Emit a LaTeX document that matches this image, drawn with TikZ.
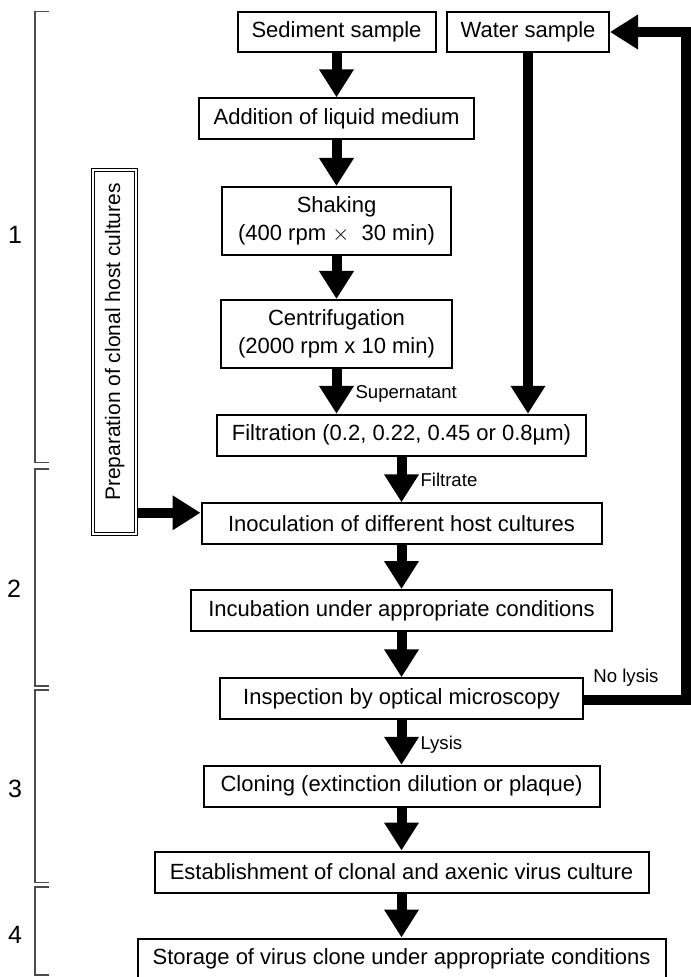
\documentclass[tikz,border=0pt]{standalone}
\usepackage{fontspec}
\setmainfont{Liberation Sans}
\usetikzlibrary{arrows.meta}

\tikzset{
  stepbox/.style={draw, line width=1pt, minimum width=#1, minimum height=20.5pt,
    inner sep=0pt, align=center, font=\fontsize{11}{14}\selectfont},
  tallbox/.style={stepbox=#1, minimum height=34pt},
  flow/.style={line width=5pt, line join=miter, -{Triangle[width=16.5pt,length=14pt]}},
  note/.style={font=\fontsize{9.3}{11}\selectfont, inner sep=0pt},
  brace/.style={black!70, line width=0.6pt},
  stage/.style={font=\fontsize{12.5}{14}\selectfont, inner sep=0pt}
}

\begin{document}
\begin{tikzpicture}[x=0.5pt, y=-0.5pt]
  \useasboundingbox (0,0) rectangle (690,977);

  % stages
  \foreach \ya/\yb in {11.7/462.5, 469/686, 690/882.5, 887/975}
    \draw[brace] (49,\ya) -- (35,\ya) -- (35,\yb) -- (49,\yb);
  \node[stage] (one) at (15,235) {1};
  \node[stage] (two) at (14,589) {2};
  \node[stage] (three) at (15,789) {3};
  \node[stage] (four) at (15,935) {4};

  % samples and pretreatment
  \node[stepbox=99pt, minimum height=20pt] (sed) at (336.5,32) {Sediment sample};
  \node[stepbox=81pt, minimum height=20pt] (wat) at (528,32) {Water sample};
  \node[stepbox=137.5pt] (add) at (336.5,118.8) {Addition of liquid medium};
  \node[tallbox=114.5pt] (shak) at (336.5,221) {Shaking\\(400 rpm $\times$\ \ 30 min)};
  \node[tallbox=115.5pt] (cent) at (336.5,334) {Centrifugation\\(2000 rpm x 10 min)};

  % main line
  \node[stepbox=184.5pt] (filt) at (401.5,435.3) {Filtration (0.2, 0.22, 0.45 or 0.8µm)};
  \node[stepbox=200pt] (inoc) at (401.5,523.8) {Inoculation of different host cultures};
  \node[stepbox=210.5pt] (incu) at (401.5,610.5) {Incubation under appropriate conditions};
  \node[stepbox=181.5pt] (insp) at (401.5,698.8) {Inspection by optical microscopy};
  \node[stepbox=198pt] (clon) at (401.5,786.3) {Cloning (extinction dilution or plaque)};
  \node[stepbox=247pt] (est) at (401.5,872) {Establishment of clonal and axenic virus culture};
  \node[stepbox=264pt] (stor) at (401.5,959) {Storage of virus clone under appropriate conditions};

  % host cultures
  \node[draw, double, line width=0.5pt, double distance=1pt, minimum width=21.5pt,
    minimum height=181.5pt, inner sep=0pt, font=\fontsize{10.5}{12}\selectfont]
    (prep) at (114.7,352) {\rotatebox{90}{\hspace{10pt}Preparation of clonal host cultures}};

  \foreach \a/\b in {sed/add, add/shak, shak/cent}
    \draw[flow] (\a) -- (\b);
  \draw[flow] (cent.south) -- node[note, right=7pt, pos=0.55] (supnat) {Supernatant} (cent.south |- filt.north);
  \draw[flow] (wat.south) -- (wat.south |- filt.north);
  \draw[flow] (filt) -- node[note, right=7pt] (filtrate) {Filtrate} (inoc);
  \foreach \a/\b in {inoc/incu, incu/insp, clon/est, est/stor}
    \draw[flow] (\a) -- (\b);
  \draw[flow] (insp) -- node[note, right=7pt, pos=0.55] (lysis) {Lysis} (clon);

  \coordinate (hostin) at ([yshift=5.5pt]inoc.west);
  \draw[flow] (prep.east |- hostin) -- (hostin);

  % back to water sample
  \coordinate (back) at (686,700);
  \node[note, anchor=west] (nolysis) at (593,678) {No lysis};
  \draw[flow] (insp.east |- back) -- (back) -- (back |- wat.east) -- (wat.east);
\end{tikzpicture}
\end{document}
